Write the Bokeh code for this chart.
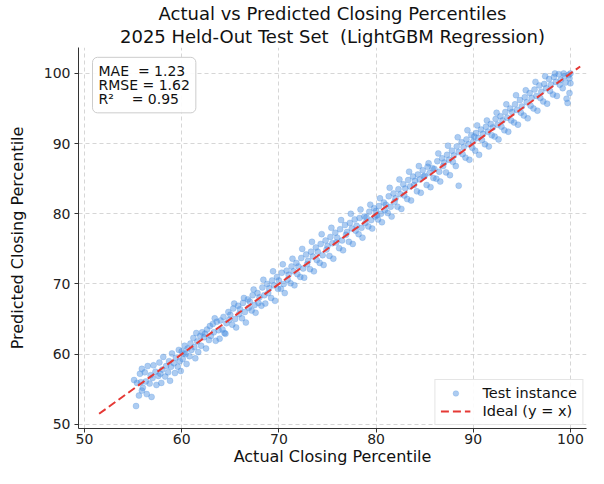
from bokeh.plotting import figure
from bokeh.models import Range1d, Label, Title, Legend, LegendItem, ColumnDataSource, FixedTicker
from bokeh.embed import file_html
from bokeh.resources import INLINE

# ---- data ----
actual = [
    55.1, 55.3, 55.4, 55.6, 55.7, 55.8, 55.9, 55.9,
    56.0, 56.2, 56.3, 56.4, 56.5, 56.7, 56.8, 56.9,
    57.0, 57.1, 57.3, 57.4, 57.6, 57.7, 57.8, 57.9,
    58.0, 58.1, 58.3, 58.4, 58.6, 58.7, 58.8, 58.9,
    59.0, 59.2, 59.3, 59.4, 59.6, 59.7, 59.8, 59.9,
    60.0, 60.1, 60.2, 60.3, 60.4, 60.5, 60.6, 60.8, 60.9,
    61.0, 61.2, 61.3, 61.4, 61.5, 61.6, 61.7, 61.9,
    62.0, 62.1, 62.3, 62.4, 62.5, 62.6, 62.8, 62.9,
    63.0, 63.2, 63.3, 63.4, 63.5, 63.6, 63.8, 63.9,
    64.0, 64.2, 64.3, 64.4, 64.5, 64.6, 64.8, 64.9,
    65.0, 65.2, 65.3, 65.4, 65.5, 65.6, 65.8, 65.9,
    66.0, 66.2, 66.3, 66.4, 66.5, 66.6, 66.8, 66.9,
    67.0, 67.2, 67.3, 67.4, 67.5, 67.6, 67.8, 67.9,
    68.0, 68.2, 68.3, 68.4, 68.5, 68.6, 68.8, 68.9,
    69.0, 69.2, 69.3, 69.4, 69.5, 69.6, 69.8, 69.9,
    70.0, 70.2, 70.3, 70.4, 70.5, 70.6, 70.8, 70.9,
    71.0, 71.2, 71.3, 71.4, 71.5, 71.6, 71.8, 71.9,
    72.0, 72.2, 72.3, 72.4, 72.5, 72.6, 72.8, 72.9,
    73.0, 73.2, 73.3, 73.4, 73.5, 73.6, 73.8, 73.9,
    74.0, 74.2, 74.3, 74.4, 74.5, 74.6, 74.8, 74.9,
    75.0, 75.2, 75.3, 75.4, 75.5, 75.6, 75.8, 75.9,
    76.0, 76.2, 76.3, 76.4, 76.5, 76.6, 76.8, 76.9,
    77.0, 77.2, 77.3, 77.4, 77.5, 77.6, 77.8, 77.9,
    78.0, 78.2, 78.3, 78.4, 78.5, 78.6, 78.8, 78.9,
    79.0, 79.2, 79.3, 79.4, 79.5, 79.6, 79.8, 79.9,
    80.0, 80.1, 80.2, 80.3, 80.4, 80.5, 80.6, 80.8, 80.9,
    81.0, 81.2, 81.3, 81.4, 81.5, 81.6, 81.8, 81.9,
    82.0, 82.2, 82.3, 82.4, 82.5, 82.6, 82.8, 82.9,
    83.0, 83.2, 83.3, 83.4, 83.5, 83.6, 83.8, 83.9,
    84.0, 84.2, 84.3, 84.4, 84.5, 84.6, 84.8, 84.9,
    85.0, 85.2, 85.3, 85.4, 85.5, 85.6, 85.8, 85.9,
    86.0, 86.2, 86.3, 86.4, 86.5, 86.6, 86.8, 86.9,
    87.0, 87.2, 87.3, 87.4, 87.5, 87.6, 87.8, 87.9,
    88.0, 88.2, 88.3, 88.4, 88.5, 88.5, 88.8, 88.9,
    89.0, 89.2, 89.3, 89.4, 89.5, 89.6, 89.8, 89.9,
    90.0, 90.1, 90.2, 90.3, 90.4, 90.5, 90.6, 90.8, 90.9,
    91.0, 91.2, 91.3, 91.4, 91.5, 91.6, 91.8, 91.9,
    92.0, 92.2, 92.3, 92.4, 92.5, 92.6, 92.8, 92.9,
    93.0, 93.2, 93.3, 93.4, 93.5, 93.6, 93.8, 93.9,
    94.0, 94.2, 94.3, 94.4, 94.5, 94.6, 94.8, 94.9,
    95.0, 95.2, 95.3, 95.4, 95.5, 95.6, 95.8, 95.9,
    96.0, 96.2, 96.3, 96.4, 96.5, 96.6, 96.8, 96.9,
    97.0, 97.2, 97.3, 97.4, 97.5, 97.6, 97.8, 97.9,
    98.0, 98.2, 98.3, 98.4, 98.5, 98.6, 98.8, 98.9,
    99.0, 99.2, 99.3, 99.4, 99.5, 99.6, 99.7, 99.8, 99.9,
    99.9, 100.0, 100.0,
]
predicted = [
    56.3, 52.6, 55.9, 54.1, 57.2, 56.0, 54.8, 57.9,
    55.2, 57.4, 56.1, 54.3, 58.3, 55.8, 57.0, 53.9,
    56.6, 58.4, 57.5, 55.6, 56.9, 58.8, 57.2, 55.9,
    57.8, 59.6, 56.8, 58.3, 57.4, 59.0, 56.2, 58.2,
    60.1, 58.7, 57.3, 59.5, 58.2, 60.6, 59.0, 57.6,
    60.4, 59.3, 60.1, 61.2, 60.0, 58.6, 60.8, 59.7, 61.5,
    60.6, 62.3, 61.0, 59.4, 63.0, 61.8, 60.3, 62.6,
    61.2, 63.1, 62.4, 62.9, 60.8, 63.5, 62.0, 64.0,
    62.6, 64.3, 63.1, 65.1, 61.9, 64.6, 63.4, 62.2,
    64.8, 63.5, 65.3, 63.0, 62.9, 64.4, 66.0, 64.9,
    65.6, 64.2, 66.5, 67.2, 65.0, 63.8, 66.9, 65.7,
    66.4, 65.1, 67.3, 68.0, 66.0, 64.5, 67.8, 66.6,
    67.5, 66.2, 68.4, 69.2, 67.0, 65.9, 68.7, 67.3,
    68.1, 66.9, 69.5, 70.6, 68.4, 67.2, 70.0, 68.7,
    69.4, 68.0, 70.5, 71.8, 69.8, 67.6, 71.0, 69.3,
    70.5, 69.3, 71.6, 72.8, 70.0, 68.7, 71.9, 70.6,
    71.3, 70.1, 72.5, 73.6, 71.8, 69.8, 73.0, 71.4,
    72.5, 71.0, 73.7, 75.0, 72.2, 70.9, 74.2, 72.8,
    73.3, 72.1, 74.6, 76.0, 73.9, 71.8, 75.2, 73.4,
    74.6, 73.0, 75.7, 77.1, 74.1, 72.7, 76.2, 74.9,
    75.4, 74.0, 76.7, 78.0, 75.8, 73.6, 77.3, 75.9,
    76.6, 75.1, 77.8, 79.1, 76.2, 74.8, 78.4, 77.0,
    77.4, 76.0, 78.7, 80.0, 77.9, 75.7, 79.2, 77.6,
    78.3, 77.1, 79.4, 80.6, 78.0, 76.6, 79.6, 78.7,
    79.5, 78.2, 80.3, 81.3, 79.1, 77.9, 80.8, 79.6,
    80.4, 79.8, 79.2, 81.1, 82.2, 80.0, 78.8, 81.6, 80.5,
    81.3, 80.1, 82.5, 83.7, 81.0, 79.6, 82.9, 81.7,
    82.2, 81.0, 83.5, 84.9, 82.8, 80.7, 84.2, 82.6,
    83.6, 82.1, 84.8, 86.0, 83.9, 81.9, 85.3, 84.1,
    84.7, 83.2, 85.6, 86.8, 84.9, 83.0, 86.2, 85.3,
    85.4, 84.1, 86.7, 87.2, 85.8, 83.8, 86.5, 85.1,
    86.4, 85.0, 87.5, 88.6, 86.0, 84.6, 87.9, 86.8,
    87.3, 85.9, 88.4, 89.7, 87.7, 85.5, 89.0, 87.4,
    88.3, 86.8, 89.6, 90.9, 88.8, 84.0, 90.2, 88.5,
    89.5, 88.0, 90.6, 91.9, 89.9, 87.7, 91.2, 89.4,
    90.3, 91.0, 89.0, 91.5, 92.6, 90.8, 88.4, 92.0, 90.5,
    91.4, 89.9, 92.4, 93.3, 91.7, 89.6, 92.8, 91.2,
    92.3, 91.0, 93.5, 94.4, 92.7, 90.6, 93.9, 92.4,
    93.3, 91.9, 94.5, 95.6, 93.7, 91.7, 95.0, 93.3,
    94.5, 93.0, 95.6, 96.9, 94.8, 92.7, 96.2, 94.4,
    95.3, 94.0, 96.6, 97.6, 95.9, 93.6, 97.2, 95.4,
    96.5, 95.0, 97.7, 98.8, 96.8, 94.7, 98.3, 96.5,
    97.4, 96.0, 98.5, 99.6, 97.9, 95.7, 99.2, 97.5,
    98.4, 97.0, 99.5, 100.0, 98.8, 96.8, 99.9, 98.4,
    99.1, 97.9, 100.0, 99.6, 98.7, 96.4, 95.8, 99.8, 97.2,
    99.3, 98.6, 100.0,
]
ideal_line = [51.5, 101.0]
x_ticks = [50, 60, 70, 80, 90, 100]
y_ticks = [50, 60, 70, 80, 90, 100]
NB = "\u00a0"
stats_text = "MAE" + NB * 2 + "= 1.23\nRMSE = 1.62\nR\u00b2" + NB * 4 + "= 0.95"
title_1 = "Actual vs Predicted Closing Percentiles"
title_2 = "2025 Held-Out Test Set" + NB * 2 + "(LightGBM Regression)"

FONT = "DejaVu Sans"

p = figure(width=588, height=468, output_backend="svg", toolbar_location=None,
           x_range=Range1d(49.38, 101.65), y_range=Range1d(49.4, 103.7),
           min_border_left=78, min_border_right=2, min_border_top=0, min_border_bottom=0)
p.outline_line_color = None
p.background_fill_color = "white"

# titles (added bottom line first)
p.add_layout(Title(text=title_2, align="center",
                   text_font=FONT, text_font_size="18px", text_font_style="normal",
                   text_color="#111111", standoff=1, offset=0), "above")
p.add_layout(Title(text=title_1, align="center",
                   text_font=FONT, text_font_size="18px", text_font_style="normal",
                   text_color="#111111", standoff=0, offset=0), "above")

src = ColumnDataSource(dict(x=actual, y=predicted))
pts = p.scatter("x", "y", source=src, size=6, fill_color="#4a8fe0", fill_alpha=0.45,
                line_color="#4a8fe0", line_alpha=0.25)
ln = p.line(ideal_line, ideal_line, line_color="#e53935", line_width=2, line_dash="8 4")

for ax, ticks, lab in ((p.xaxis[0], x_ticks, "Actual Closing Percentile"),
                       (p.yaxis[0], y_ticks, "Predicted Closing Percentile")):
    ax.ticker = FixedTicker(ticks=ticks)
    ax.axis_label = lab
    ax.axis_label_text_font = FONT
    ax.axis_label_text_font_size = "16px"
    ax.axis_label_text_font_style = "normal"
    ax.axis_label_text_color = "#111111"
    ax.major_label_text_font = FONT
    ax.major_label_text_font_size = "14px"
    ax.major_label_text_color = "#222222"
    ax.axis_line_color = "#333333"
    ax.major_tick_line_color = "#333333"
    ax.major_tick_out = 4
    ax.major_tick_in = 0
    ax.minor_tick_line_color = None
p.xaxis[0].major_label_standoff = 1
p.xaxis[0].axis_label_standoff = 0
p.yaxis[0].major_label_standoff = 4
p.yaxis[0].axis_label_standoff = 14

p.xgrid.ticker = FixedTicker(ticks=x_ticks)
p.ygrid.ticker = FixedTicker(ticks=y_ticks)
for g in (p.xgrid[0], p.ygrid[0]):
    g.grid_line_color = "#cccccc"
    g.grid_line_dash = "4 3"
    g.grid_line_alpha = 0.8

stats = Label(x=50.82, y=102.3, text=stats_text, anchor="top_left",
              text_font=FONT, text_font_size="14px", text_color="#111111",
              text_line_height=0.86, padding=6,
              background_fill_color="white", background_fill_alpha=0.9,
              border_line_color="#cccccc", border_line_width=1, border_radius=5)
p.add_layout(stats)

legend = Legend(items=[LegendItem(label="Test instance", renderers=[pts]),
                       LegendItem(label="Ideal (y = x)", renderers=[ln])],
                location="bottom_right", label_text_font=FONT, label_text_font_size="14.5px",
                label_text_color="#111111", border_line_color="#cccccc",
                background_fill_alpha=0.9, glyph_width=30, glyph_height=14,
                label_height=14, spacing=2, padding=5, margin=3, label_standoff=12)
p.add_layout(legend)

open("out.html", "w").write(file_html(p, INLINE))
